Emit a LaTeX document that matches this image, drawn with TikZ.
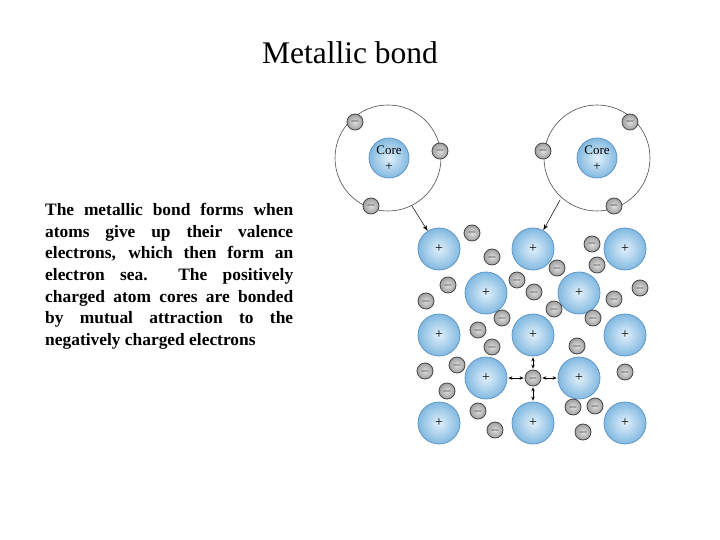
\documentclass[tikz,border=0pt]{standalone}
\usepackage{fontspec}
\setmainfont{Liberation Serif}
\usetikzlibrary{arrows.meta}
\definecolor{ionedge}{RGB}{95,150,200}
\definecolor{ionin}{RGB}{225,240,250}
\definecolor{ionout}{RGB}{130,185,225}
\definecolor{eledge}{RGB}{70,70,70}
\begin{document}
\begin{tikzpicture}[x=1pt,y=-1pt,
  ion/.style={circle,draw=ionedge,line width=0.8pt,inner color=ionin,outer color=ionout,minimum size=42pt,inner sep=0pt,font=\fontsize{14}{14}\selectfont},
  core/.style={ion,minimum size=40pt,align=center,font=\fontsize{13}{13}\selectfont},
  el/.style={circle,draw=eledge,line width=0.8pt,inner color=gray!25,outer color=gray!75,minimum size=16pt,inner sep=0pt,font=\fontsize{12}{12}\selectfont},
  orbit/.style={draw=black!70,line width=0.6pt},
  arr/.style={-{Stealth[length=6pt,width=4pt]},line width=0.5pt},
  sarr/.style={{Stealth[length=4pt,width=3.5pt]}-{Stealth[length=4pt,width=3.5pt]},line width=0.6pt,shorten <=1pt,shorten >=1pt}]
\useasboundingbox (0,0) rectangle (720,540);
\node (title) at (350,53) {\fontsize{31.5}{33}\selectfont Metallic bond};
\node[anchor=north west,text width=248pt,align=justify,inner sep=0pt,font=\fontsize{17.4}{21.7}\selectfont\bfseries] (txt) at (45,203)
 {The metallic bond forms when\linebreak atoms give up their valence\linebreak electrons, which then form an\linebreak electron sea.\ \ The positively\linebreak charged atom cores are bonded\linebreak by mutual attraction to the\linebreak negatively charged electrons};
% atoms
\draw[orbit] (388,158) circle (53);
\draw[orbit] (597,158) circle (53);
\node[core] (c1) at (389,158) {Core\\[3pt]+};
\node[core] (c2) at (597,158) {Core\\[3pt]+};
\foreach \n/\x/\y in {a1/355/122,a2/440/151,a3/371/206,b1/630/122,b2/543/151,b3/614/206}
  \node[el] (\n) at (\x,\y) {$-$};
\coordinate (s1) at (412,206); \coordinate (s2) at (560,200);
% ions
\foreach \n/\x/\y in {i11/439/249,i12/533/249,i13/625/249,i21/486/293,i22/579/293,i31/439/335,i32/533/335,i33/625/335,i41/486/378,i42/579/378,i51/439/423,i52/533/423,i53/625/423}
  \node[ion] (\n) at (\x,\y) {+};
\foreach \n/\x/\y in {e1/472/233,e2/492/257,e3/592/244,e4/597/265,e5/557/268,e6/517/280,e7/534/292,e8/448/285,e9/426/301,e10/640/288,e11/614/299,e12/554/309,e13/502/318,e14/593/318,e15/478/330,e16/492/347,e17/577/346,e18/457/365,e19/425/371,e20/447/391,ec/533/378,e21/625/372,e22/478/411,e23/573/407,e24/595/406,e25/495/430,e26/583/432}
  \node[el] (\n) at (\x,\y) {$-$};
\draw[arr] (s1) -- (i11);
\draw[arr] (s2) -- (i12);
\draw[sarr] (ec) -- (i32);
\draw[sarr] (ec) -- (i52);
\draw[sarr] (ec) -- (i41);
\draw[sarr] (ec) -- (i42);
\end{tikzpicture}
\end{document}
